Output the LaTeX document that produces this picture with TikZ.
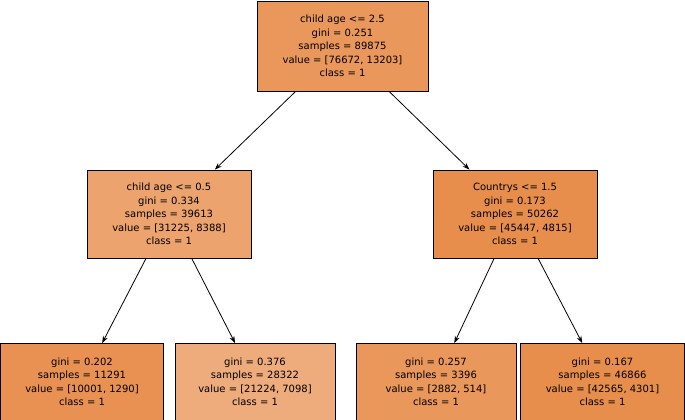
\documentclass[tikz,border=0pt]{standalone}
\usepackage{fontspec}
\setmainfont{DejaVu Sans}
\usetikzlibrary{arrows.meta}
\definecolor{c0}{RGB}{234,151,91}
\definecolor{c1}{RGB}{236,163,110}
\definecolor{c2}{RGB}{232,142,77}
\definecolor{c3}{RGB}{232,145,83}
\definecolor{c4}{RGB}{238,171,123}
\definecolor{c5}{RGB}{234,151,92}
\definecolor{c6}{RGB}{232,142,77}
\begin{document}
\begin{tikzpicture}[x=1pt,y=-1pt,
  box/.style={draw=black,line width=0.8pt,inner sep=0pt,align=center,
    font=\fontsize{10}{13.5}\selectfont},
  edge/.style={-{Stealth[length=7pt,width=5pt]},line width=0.8pt}]
\useasboundingbox (0,0) rectangle (685,420);
\node[box,fill=c0,minimum width=171,minimum height=90] (root) at (342.5,46)
 {child age <= 2.5\\gini = 0.251\\samples = 89875\\value = [76672, 13203]\\class = 1};
\node[box,fill=c1,minimum width=164,minimum height=88] (l) at (169,214)
 {child age <= 0.5\\gini = 0.334\\samples = 39613\\value = [31225, 8388]\\class = 1};
\node[box,fill=c2,minimum width=164,minimum height=88] (r) at (515,214)
 {Countrys <= 1.5\\gini = 0.173\\samples = 50262\\value = [45447, 4815]\\class = 1};
\node[box,fill=c3,minimum width=163,minimum height=77] (ll) at (82,382)
 {gini = 0.202\\samples = 11291\\value = [10001, 1290]\\class = 1};
\node[box,fill=c4,minimum width=160,minimum height=77] (lr) at (255,382)
 {gini = 0.376\\samples = 28322\\value = [21224, 7098]\\class = 1};
\node[box,fill=c5,minimum width=160,minimum height=77] (rl) at (436,382)
 {gini = 0.257\\samples = 3396\\value = [2882, 514]\\class = 1};
\node[box,fill=c6,minimum width=164,minimum height=77] (rr) at (602.5,382)
 {gini = 0.167\\samples = 46866\\value = [42565, 4301]\\class = 1};
\draw[edge] (root) -- (l);
\draw[edge] (root) -- (r);
\draw[edge] (l) -- (ll);
\draw[edge] (l) -- (lr);
\draw[edge] (r) -- (rl);
\draw[edge] (r) -- (rr);
\end{tikzpicture}
\end{document}
